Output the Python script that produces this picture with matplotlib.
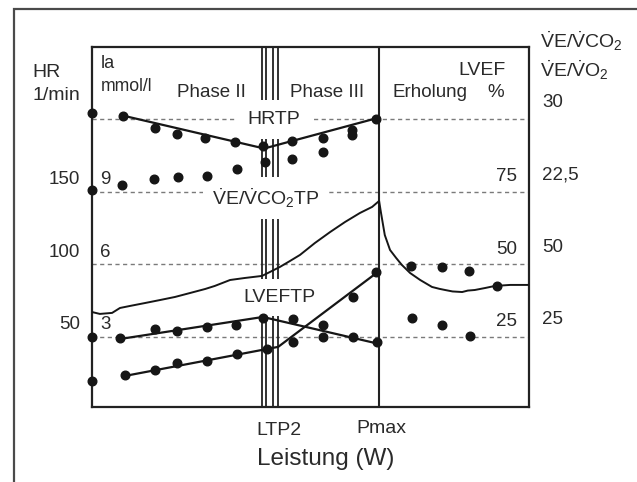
import matplotlib
matplotlib.use("Agg")
import matplotlib.pyplot as plt
from matplotlib.patches import Rectangle

plt.rcParams['font.family'] = ['Liberation Sans', 'DejaVu Sans']
plt.rcParams['mathtext.fontset'] = 'custom'
plt.rcParams['mathtext.rm'] = 'Liberation Sans'
plt.rcParams['mathtext.it'] = 'Liberation Sans:italic'
plt.rcParams['mathtext.bf'] = 'Liberation Sans:bold'

# ---------------- data (x = Leistung, arbitrary units 0..100) ----------------
# VE/VCO2 (dots + fit line), right outer axis
vco2_x = [0, 7.1, 14.4, 19.5, 25.9, 32.7, 39.1, 45.8, 52.9, 59.5, 65.0]
vco2_val = [30.7, 30.4, 29.1, 28.5, 28.1, 27.7, 27.3, 27.8, 28.1, 28.9, 30.0]
vco2_fit_x = [7.1, 39.4, 65.7]
vco2_fit = [30.4, 27.0, 30.2]

# VE/VO2 (dots only)
vo2_x = [0, 6.9, 14.2, 19.7, 26.3, 33.2, 39.6, 45.8, 52.9, 59.5]
vo2_val = [22.7, 23.2, 23.8, 24.0, 24.2, 24.9, 25.6, 25.9, 26.6, 28.4]

# LVEF (%)
lvef_x = [0, 6.4, 14.4, 19.5, 26.3, 33.0, 39.1, 46.0, 52.9, 59.7, 65.2]
lvef_val = [25.0, 24.7, 27.8, 27.1, 28.4, 29.1, 31.6, 31.2, 29.1, 25.0, 23.3]
lvef_fit_x = [6.4, 39.1, 65.7]
lvef_fit = [24.3, 31.9, 22.6]
lvef_rec_x = [73.2, 80.1, 86.5]
lvef_rec = [31.6, 29.1, 25.3]

# Lactate (mmol/l)
la_x = [0, 7.6, 14.4, 19.5, 26.3, 33.2, 40.0, 46.0, 52.9, 59.7, 65.0]
la_val = [1.18, 1.43, 1.63, 1.93, 2.01, 2.30, 2.50, 2.79, 3.0, 4.66, 5.69]
la_fit_x = [7.6, 42.6, 65.7]
la_fit = [1.39, 2.59, 5.73]
la_rec_x = [73.0, 80.1, 86.3, 92.7]
la_rec = [5.94, 5.90, 5.73, 5.11]

# Heart rate trace (1/min)
hr_x = [0, 1.8, 4.6, 6.4, 8.7, 12.1, 15.6, 19.0, 22.4, 25.9, 28.1, 31.6, 35.0,
        38.9, 40.7, 43.0, 45.3, 47.6, 51.0, 54.5, 57.9, 61.3, 64.1, 65.7,
        66.1, 67.0, 68.2, 69.6, 70.9, 72.8, 75.1, 77.8, 79.5, 80.8, 82.5,
        84.7, 86.0, 87.6, 90.0, 92.2, 95.7, 100]
hr_val = [67.2, 65.9, 66.6, 70.0, 71.4, 73.4, 75.5, 77.6, 80.3, 83.1, 85.2,
          89.3, 90.7, 92.1, 94.8, 98.3, 102.4, 106.6, 114.8, 122.4, 129.3,
          135.5, 139.7, 143.8, 136.2, 120.3, 110.0, 104.5, 99.7, 94.1, 89.3,
          84.5, 83.2, 82.4, 81.4, 81.0, 82.0, 82.4, 83.8, 85.2, 85.9, 85.9]

ltp2_x = [38.9, 39.8, 41.5, 42.6]
pmax_x = 65.7

# axis tick labels (levels in HR units of the main axis)
grid_levels = [200, 150, 100, 50]
hr_ticks = [150, 100, 50]
la_ticks = [9, 6, 3]
lvef_ticks = [75, 50, 25]
outer_ticks = ['30', '22,5', '50', '25']

LA_SCALE = 50 / 3.0
LVEF_SCALE = 2.0
RATIO_SCALE = 50 / 7.5

# ---------------- figure ----------------
W, H = 637, 482
fig = plt.figure(figsize=(W / 100, H / 100), dpi=100)
fig.patch.set_facecolor('white')

def fx(px):
    return px / W

def fy(py):
    return 1 - py / H

# outer frame (only top and left edges visible)
fig.patches.append(Rectangle((fx(14), -0.2), 1.5, fy(9) + 0.2, transform=fig.transFigure,
                             fill=False, ec='#4a4a4a', lw=1.6))

ax = fig.add_axes([fx(92), fy(407), 437 / W, 360 / H])
ax.set_xlim(0, 100)
ax.set_ylim(1.7, 250)
ax.set_xticks([])
ax.set_yticks([])
for s in ax.spines.values():
    s.set_linewidth(1.6)
    s.set_color('#222222')

TXT = '#2a2a2a'
LC = '#161616'

for lvl in grid_levels:
    ax.axhline(lvl, color='#7a7a7a', lw=1.0, ls=(0, (3, 2.5)), zorder=1)
for xv in ltp2_x:
    ax.axvline(xv, color='#222222', lw=1.3, zorder=2)
ax.axvline(pmax_x, color='#222222', lw=1.5, zorder=2)

# turn point labels with white boxes
tp_kw = dict(transform=fig.transFigure, ha='center', va='center', fontsize=14,
             color=TXT, zorder=3)
ax.text(fx(273.5), fy(119.5), 'HRTP',
        bbox=dict(boxstyle='square,pad=0.55', fc='white', ec='none'), **tp_kw)
ax.text(fx(265.5), fy(198), r'$\dot{\mathrm{V}}$E/$\dot{\mathrm{V}}$CO$_{\mathrm{2}}$TP',
        bbox=dict(boxstyle='square,pad=0.45', fc='white', ec='none'), **tp_kw)
ax.text(fx(279), fy(297.5), 'LVEFTP',
        bbox=dict(boxstyle='square,pad=0.5', fc='white', ec='none'), **tp_kw)

# data
ms = 6.2
ax.plot(vco2_fit_x, [v * RATIO_SCALE for v in vco2_fit], color=LC, lw=1.6, zorder=5)
ax.plot(vco2_x, [v * RATIO_SCALE for v in vco2_val], 'o', ms=ms, color=LC, zorder=6, clip_on=False)
ax.plot(vo2_x, [v * RATIO_SCALE for v in vo2_val], 'o', ms=ms, color=LC, zorder=6, clip_on=False)

ax.plot(lvef_fit_x, [v * LVEF_SCALE for v in lvef_fit], color=LC, lw=1.6, zorder=5)
ax.plot(lvef_x, [v * LVEF_SCALE for v in lvef_val], 'o', ms=ms, color=LC, zorder=6, clip_on=False)
ax.plot(lvef_rec_x, [v * LVEF_SCALE for v in lvef_rec], 'o', ms=ms, color=LC, zorder=6)

ax.plot(la_fit_x, [v * LA_SCALE for v in la_fit], color=LC, lw=1.6, zorder=5)
ax.plot(la_x, [v * LA_SCALE for v in la_val], 'o', ms=ms, color=LC, zorder=6, clip_on=False)
ax.plot(la_rec_x, [v * LA_SCALE for v in la_rec], 'o', ms=ms, color=LC, zorder=6)

ax.plot(hr_x, hr_val, color=LC, lw=1.4, zorder=5)

# tick labels
ytr = ax.get_yaxis_transform()
for v in hr_ticks:
    ax.annotate(str(v), xy=(0, v), xycoords=ytr, xytext=(-12, 12), textcoords='offset pixels',
                ha='right', va='center', fontsize=13.5, color=TXT)
for v in la_ticks:
    ax.annotate(str(v), xy=(0, v * LA_SCALE), xycoords=ytr, xytext=(8, 12),
                textcoords='offset pixels', ha='left', va='center', fontsize=13.5, color=TXT)
for v in lvef_ticks:
    ax.annotate(str(v), xy=(1, v * LVEF_SCALE), xycoords=ytr, xytext=(-12, 15),
                textcoords='offset pixels', ha='right', va='center', fontsize=13.5, color=TXT)
for lab, lvl in zip(outer_ticks, grid_levels):
    ax.annotate(lab, xy=(1, lvl), xycoords=ytr, xytext=(13, 17),
                textcoords='offset pixels', ha='left', va='center', fontsize=13.5, color=TXT,
                annotation_clip=False)

# other labels
def ftxt(px, py, s, size=13.5, ha='left', va='baseline'):
    fig.text(fx(px), fy(py), s, fontsize=size, ha=ha, va=va, color=TXT)

ftxt(32, 77, 'HR', 14)
ftxt(33, 100, '1/min', 14)
ftxt(101, 68, 'la', 13)
ftxt(101, 91, 'mmol/l', 12.7)
ftxt(177, 97, 'Phase II', 13.5)
ftxt(290, 97, 'Phase III', 13.5)
ftxt(393, 97, 'Erholung', 13.5)
ftxt(458, 75, 'LVEF', 14)
ftxt(487, 97, '%', 13.5)
ftxt(540, 48, r'$\dot{\mathrm{V}}$E/$\dot{\mathrm{V}}$CO$_{\mathrm{2}}$', 14)
ftxt(540, 77, r'$\dot{\mathrm{V}}$E/$\dot{\mathrm{V}}$O$_{\mathrm{2}}$', 14)
ftxt(278.5, 435, 'LTP2', 14, ha='center')
ftxt(381.5, 433, 'Pmax', 14, ha='center')
ftxt(326, 465, 'Leistung (W)', 17.5, ha='center')

fig.savefig('out.png', dpi=100, facecolor='white')
